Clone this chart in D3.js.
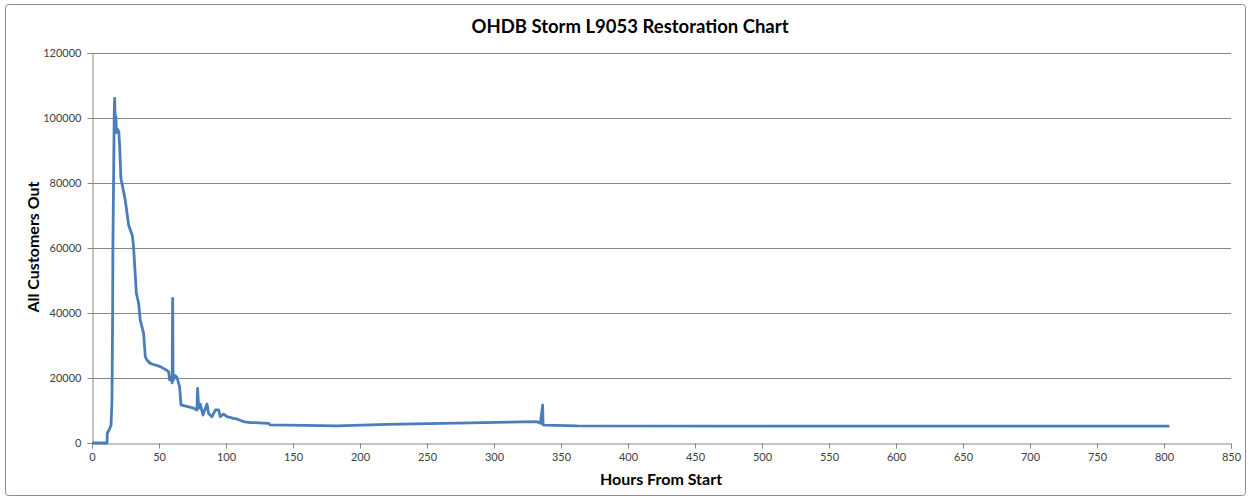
<!DOCTYPE html>
<html>
<head>
<meta charset="utf-8">
<script src="https://cdn.jsdelivr.net/npm/d3@7"></script>
<style>
  body { margin: 0; background: #fff; }
  svg { font-family: Lato, "Open Sans", sans-serif; }
</style>
</head>
<body>
<script>
// hours from start of the storm vs customers out
var hours = [0, 11.2, 11.4, 13.3, 14.2, 14.9, 15.4, 15.6, 16.1, 16.6, 16.9, 17.2, 17.4, 17.8, 18.3, 19.1, 20.0, 20.6, 21.6, 23.6,
  24.8, 27.3, 29.1, 29.6, 30.2, 31.0, 33.1, 34.8, 36.0, 38.5, 39.8, 41.0, 43.5, 44.8, 51.0, 56.0, 57.2, 57.9, 59.0, 59.8,
  60.2, 60.5, 60.9, 61.8, 63.4, 65.4, 66.4, 75.8, 78.3, 78.8, 79.6, 80.8, 82.8, 85.8, 87.0, 89.5, 92.0, 94.5, 95.7, 98.2,
  100.7, 105.7, 108, 113, 118, 120.6, 131.8, 133, 158, 182.8, 220, 282.3, 332, 334.6, 336.3, 336.6, 338, 362, 600, 804];
var customers = [0, 0, 3000, 4500, 5500, 13000, 39900, 60400, 80900, 101400, 106000, 101000, 96800, 100500, 95500, 96500, 95800, 91700, 81400, 77300,
  74800, 67100, 65000, 64500, 63500, 60400, 46100, 43000, 37800, 33750, 26500, 25500, 24500, 24300, 23500, 22300, 21900, 19400, 20400, 18500,
  44500, 20000, 19400, 20800, 20200, 17300, 11700, 10700, 10150, 16800, 10700, 12000, 8600, 12000, 9100, 8100, 10150, 10150, 8100, 8900,
  8100, 7600, 7400, 6600, 6250, 6250, 6050, 5550, 5450, 5250, 5700, 6200, 6550, 6050, 11700, 5600, 5500, 5250, 5200, 5200];

var xTicks = d3.range(0, 851, 50);
var yTicks = d3.range(0, 120001, 20000);

var W = 1251, H = 500;
var plotL = 92, plotR = 1231, plotT = 53, plotB = 443;

var svg = d3.select("body").append("svg")
    .attr("width", W)
    .attr("height", H);

// chart border
svg.append("rect")
    .attr("x", 5.5).attr("y", 4.5)
    .attr("width", 1240).attr("height", 491)
    .attr("rx", 3)
    .attr("fill", "#fff")
    .attr("stroke", "#8c8c8c");

var x = d3.scaleLinear().domain([0, 850]).range([plotL, plotR]);
var y = d3.scaleLinear().domain([0, 120000]).range([plotB, plotT]);

// gridlines
svg.append("g")
    .selectAll("line")
    .data(yTicks.slice(1))
    .enter()
    .append("line")
    .attr("x1", plotL).attr("x2", plotR)
    .attr("y1", function (d) { return Math.round(y(d)) + 0.5; })
    .attr("y2", function (d) { return Math.round(y(d)) + 0.5; })
    .attr("stroke", "#868686")
    .attr("stroke-width", 1);

var yAxis = svg.append("g")
    .attr("transform", "translate(" + (plotL + 0.5) + ",0)")
    .call(d3.axisLeft(y).tickValues(yTicks).tickSize(5).tickPadding(6).tickFormat(d3.format("d")));

var xAxis = svg.append("g")
    .attr("transform", "translate(0," + (plotB + 0.5) + ")")
    .call(d3.axisBottom(x).tickValues(xTicks).tickSize(5).tickPadding(5).tickFormat(d3.format("d")));

[xAxis, yAxis].forEach(function (g) {
    g.selectAll("path.domain").attr("stroke", "#868686");
    g.selectAll(".tick line").attr("stroke", "#868686");
    g.selectAll("text")
        .attr("font-family", "Lato, sans-serif")
        .attr("font-size", "11px")
        .attr("fill", "#404040");
});

// series line
var line = d3.line()
    .x(function (d) { return x(d[0]); })
    .y(function (d) { return y(d[1]); });

svg.append("path")
    .datum(d3.zip(hours, customers))
    .attr("d", line)
    .attr("fill", "none")
    .attr("stroke", "#4a7ebb")
    .attr("stroke-width", 2.8)
    .attr("stroke-linejoin", "round");

// titles
svg.append("text")
    .attr("x", 630).attr("y", 33)
    .attr("text-anchor", "middle")
    .attr("font-size", "18.5px")
    .attr("font-weight", "bold")
    .attr("fill", "#000")
    .text("OHDB Storm L9053 Restoration Chart");

svg.append("text")
    .attr("x", 661).attr("y", 485)
    .attr("text-anchor", "middle")
    .attr("font-size", "16px")
    .attr("font-weight", "bold")
    .text("Hours From Start");

svg.append("text")
    .attr("transform", "translate(39,247) rotate(-90)")
    .attr("text-anchor", "middle")
    .attr("font-size", "16px")
    .attr("font-weight", "bold")
    .text("All Customers Out");
</script>
</body>
</html>
